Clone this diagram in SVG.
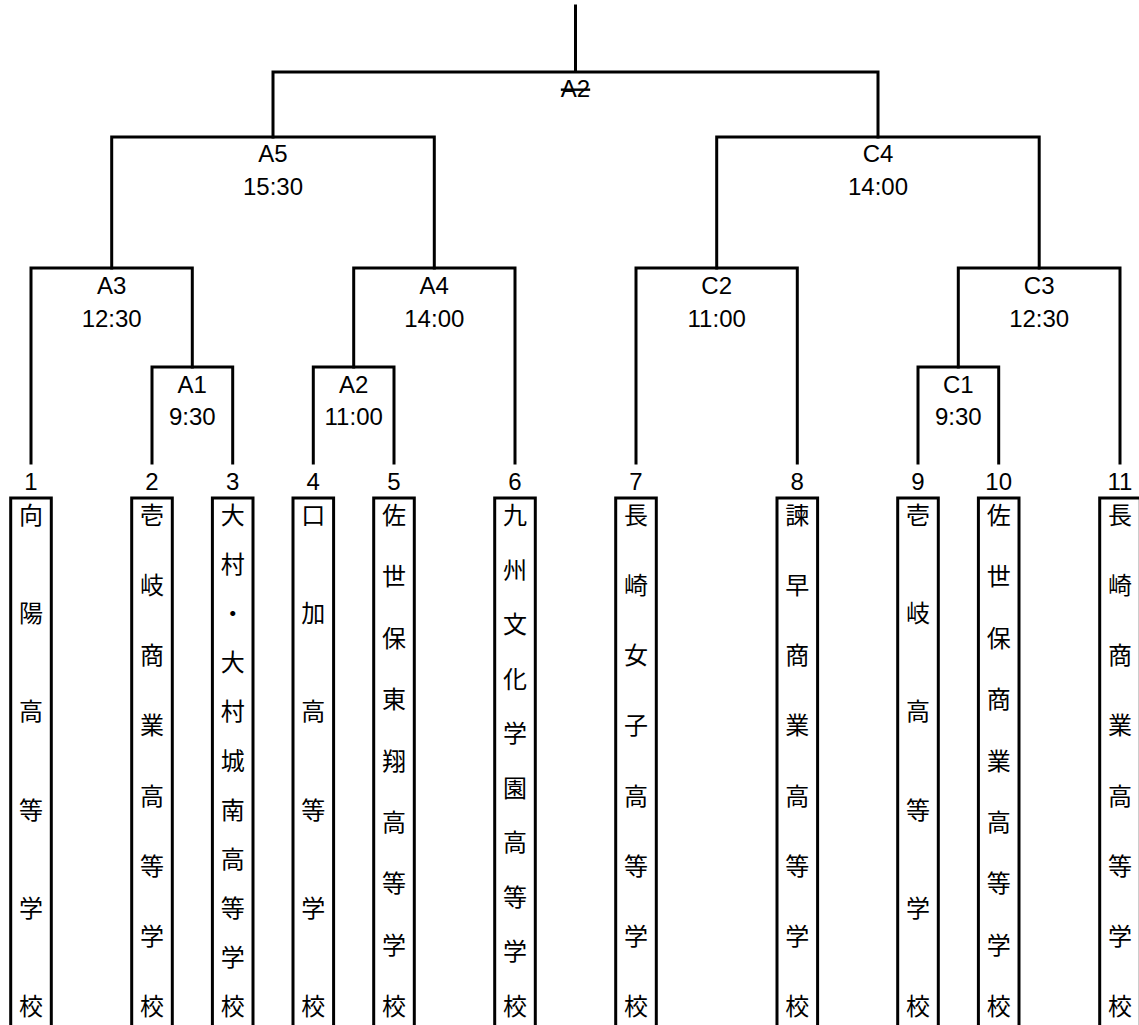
<svg xmlns="http://www.w3.org/2000/svg" width="1139" height="1025" viewBox="0 0 1139 1025">
<style>
.ln{fill:none;stroke:#000;stroke-width:3;stroke-linecap:square}
.lb{font-family:"Liberation Sans",Arial,sans-serif;font-size:24px;fill:#000;text-anchor:middle}
.bx{fill:#fff;stroke:#000;stroke-width:3}
.jp{font-family:"Noto Sans CJK JP","Noto Sans CJK SC",sans-serif;font-size:24px;fill:#000;text-anchor:middle}
</style>
<rect width="1139" height="1025" fill="#fff"/>
<g id="connectors" class="ln">
<path d="M575.5,6V72M273,72H878M273,72V137M878,72V137"/>
<path d="M111.7,137H434.3M111.7,137V268M434.3,137V268M716.7,137H1039.2M716.7,137V268M1039.2,137V268"/>
<path d="M31,268H192.3M31,268V463M192.3,268V367M353.7,268H515M353.7,268V367M515,268V463"/>
<path d="M636,268H797.3M636,268V463M797.3,268V463M958.3,268H1120M958.3,268V367M1120,268V463"/>
<path d="M152,367H232.7M152,367V463M232.7,367V463M313.3,367H394M313.3,367V463M394,367V463M918,367H998.7M918,367V463M998.7,367V463"/>
</g>
<g id="match-final"><text class="lb" x="575.5" y="97" text-decoration="line-through">A2</text></g>
<g id="match-A5"><text class="lb" x="273" y="162">A5</text><text class="lb" x="273" y="195">15:30</text></g>
<g id="match-C4"><text class="lb" x="878" y="162">C4</text><text class="lb" x="878" y="195">14:00</text></g>
<g id="match-A3"><text class="lb" x="111.7" y="294">A3</text><text class="lb" x="111.7" y="327">12:30</text></g>
<g id="match-A4"><text class="lb" x="434.3" y="294">A4</text><text class="lb" x="434.3" y="327">14:00</text></g>
<g id="match-C2"><text class="lb" x="716.7" y="294">C2</text><text class="lb" x="716.7" y="327">11:00</text></g>
<g id="match-C3"><text class="lb" x="1039.2" y="294">C3</text><text class="lb" x="1039.2" y="327">12:30</text></g>
<g id="match-A1"><text class="lb" x="192.3" y="393">A1</text><text class="lb" x="192.3" y="425">9:30</text></g>
<g id="match-A2"><text class="lb" x="353.7" y="393">A2</text><text class="lb" x="353.7" y="425">11:00</text></g>
<g id="match-C1"><text class="lb" x="958.3" y="393">C1</text><text class="lb" x="958.3" y="425">9:30</text></g>

<g id="team-1"><text class="lb" x="31" y="490">1</text><rect class="bx" x="10.7" y="498" width="40.6" height="560"/>
<text class="jp" x="31"><tspan x="31" y="524">向</tspan><tspan x="31" y="622.2">陽</tspan><tspan x="31" y="720.4">高</tspan><tspan x="31" y="818.6">等</tspan><tspan x="31" y="916.8">学</tspan><tspan x="31" y="1015">校</tspan></text></g>

<g id="team-2"><text class="lb" x="152" y="490">2</text><rect class="bx" x="131.7" y="498" width="40.6" height="560"/>
<text class="jp"><tspan x="152" y="524">壱</tspan><tspan x="152" y="594.1">岐</tspan><tspan x="152" y="664.3">商</tspan><tspan x="152" y="734.4">業</tspan><tspan x="152" y="804.6">高</tspan><tspan x="152" y="874.7">等</tspan><tspan x="152" y="944.9">学</tspan><tspan x="152" y="1015">校</tspan></text></g>

<g id="team-3"><text class="lb" x="232.7" y="490">3</text><rect class="bx" x="212.4" y="498" width="40.6" height="560"/>
<text class="jp"><tspan x="232.7" y="524">大</tspan><tspan x="232.7" y="573.1">村</tspan><tspan x="232.7" y="622.2">・</tspan><tspan x="232.7" y="671.3">大</tspan><tspan x="232.7" y="720.4">村</tspan><tspan x="232.7" y="769.5">城</tspan><tspan x="232.7" y="818.6">南</tspan><tspan x="232.7" y="867.7">高</tspan><tspan x="232.7" y="916.8">等</tspan><tspan x="232.7" y="965.9">学</tspan><tspan x="232.7" y="1015">校</tspan></text></g>

<g id="team-4"><text class="lb" x="313.3" y="490">4</text><rect class="bx" x="293" y="498" width="40.6" height="560"/>
<text class="jp"><tspan x="313.3" y="524">口</tspan><tspan x="313.3" y="622.2">加</tspan><tspan x="313.3" y="720.4">高</tspan><tspan x="313.3" y="818.6">等</tspan><tspan x="313.3" y="916.8">学</tspan><tspan x="313.3" y="1015">校</tspan></text></g>

<g id="team-5"><text class="lb" x="394" y="490">5</text><rect class="bx" x="373.7" y="498" width="40.6" height="560"/>
<text class="jp"><tspan x="394" y="524">佐</tspan><tspan x="394" y="585.4">世</tspan><tspan x="394" y="646.75">保</tspan><tspan x="394" y="708.1">東</tspan><tspan x="394" y="769.5">翔</tspan><tspan x="394" y="830.9">高</tspan><tspan x="394" y="892.25">等</tspan><tspan x="394" y="953.6">学</tspan><tspan x="394" y="1015">校</tspan></text></g>

<g id="team-6"><text class="lb" x="515" y="490">6</text><rect class="bx" x="494.7" y="498" width="40.6" height="560"/>
<text class="jp"><tspan x="515" y="524">九</tspan><tspan x="515" y="578.6">州</tspan><tspan x="515" y="633.1">文</tspan><tspan x="515" y="687.7">化</tspan><tspan x="515" y="742.2">学</tspan><tspan x="515" y="796.8">園</tspan><tspan x="515" y="851.4">高</tspan><tspan x="515" y="905.9">等</tspan><tspan x="515" y="960.4">学</tspan><tspan x="515" y="1015">校</tspan></text></g>

<g id="team-7"><text class="lb" x="636" y="490">7</text><rect class="bx" x="615.7" y="498" width="40.6" height="560"/>
<text class="jp"><tspan x="636" y="524">長</tspan><tspan x="636" y="594.1">崎</tspan><tspan x="636" y="664.3">女</tspan><tspan x="636" y="734.4">子</tspan><tspan x="636" y="804.6">高</tspan><tspan x="636" y="874.7">等</tspan><tspan x="636" y="944.9">学</tspan><tspan x="636" y="1015">校</tspan></text></g>

<g id="team-8"><text class="lb" x="797.3" y="490">8</text><rect class="bx" x="777" y="498" width="40.6" height="560"/>
<text class="jp"><tspan x="797.3" y="524">諫</tspan><tspan x="797.3" y="594.1">早</tspan><tspan x="797.3" y="664.3">商</tspan><tspan x="797.3" y="734.4">業</tspan><tspan x="797.3" y="804.6">高</tspan><tspan x="797.3" y="874.7">等</tspan><tspan x="797.3" y="944.9">学</tspan><tspan x="797.3" y="1015">校</tspan></text></g>

<g id="team-9"><text class="lb" x="918" y="490">9</text><rect class="bx" x="897.7" y="498" width="40.6" height="560"/>
<text class="jp"><tspan x="918" y="524">壱</tspan><tspan x="918" y="622.2">岐</tspan><tspan x="918" y="720.4">高</tspan><tspan x="918" y="818.6">等</tspan><tspan x="918" y="916.8">学</tspan><tspan x="918" y="1015">校</tspan></text></g>

<g id="team-10"><text class="lb" x="998.7" y="490">10</text><rect class="bx" x="978.4" y="498" width="40.6" height="560"/>
<text class="jp"><tspan x="998.7" y="524">佐</tspan><tspan x="998.7" y="585.4">世</tspan><tspan x="998.7" y="646.75">保</tspan><tspan x="998.7" y="708.1">商</tspan><tspan x="998.7" y="769.5">業</tspan><tspan x="998.7" y="830.9">高</tspan><tspan x="998.7" y="892.25">等</tspan><tspan x="998.7" y="953.6">学</tspan><tspan x="998.7" y="1015">校</tspan></text></g>

<g id="team-11"><text class="lb" x="1120" y="490">11</text><rect class="bx" x="1099.7" y="498" width="40.6" height="560"/>
<text class="jp"><tspan x="1120" y="524">長</tspan><tspan x="1120" y="594.1">崎</tspan><tspan x="1120" y="664.3">商</tspan><tspan x="1120" y="734.4">業</tspan><tspan x="1120" y="804.6">高</tspan><tspan x="1120" y="874.7">等</tspan><tspan x="1120" y="944.9">学</tspan><tspan x="1120" y="1015">校</tspan></text></g>
</svg>
